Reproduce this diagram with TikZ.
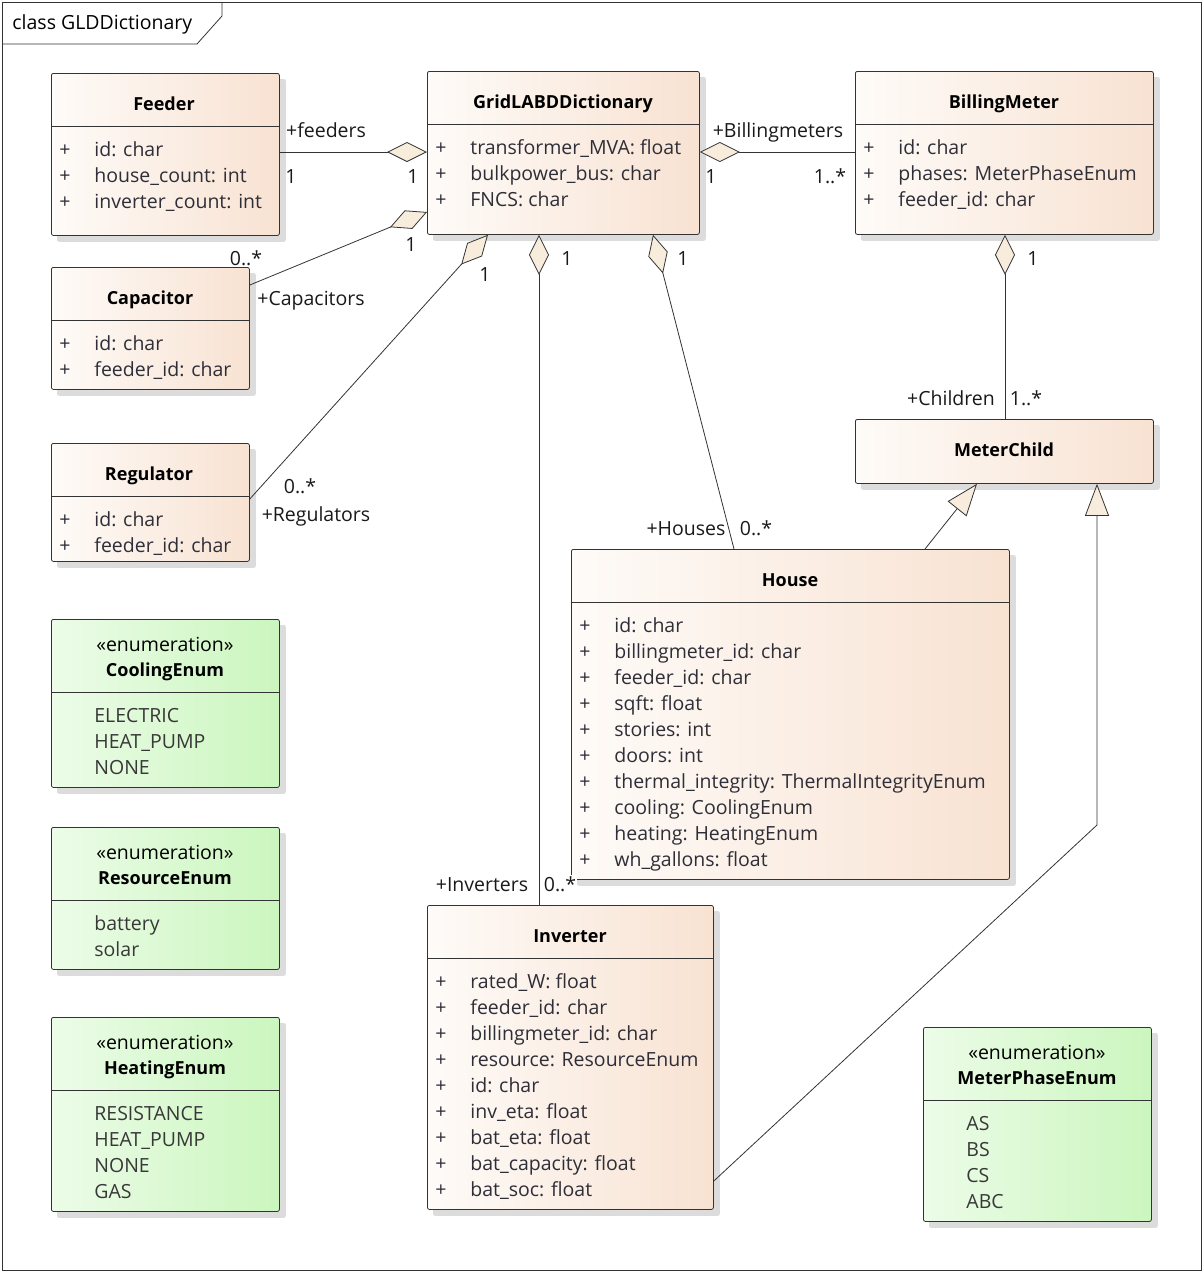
\documentclass[tikz,border=0pt]{standalone}
\usepackage{fontspec}
\setmainfont{Open Sans}
\usetikzlibrary{arrows.meta,calc,backgrounds}
\definecolor{clsL}{HTML}{FEFBF8}
\definecolor{clsR}{HTML}{F8E2D2}
\definecolor{enL}{HTML}{ECFCE8}
\definecolor{enR}{HTML}{CBF6BE}
\definecolor{diamC}{HTML}{F8EDDC}
\definecolor{lineC}{HTML}{333333}
\definecolor{txt}{HTML}{2E2E38}
\definecolor{shd}{HTML}{DCDCDC}
\newcommand\umlattrs[4]{%
  \foreach [count=\i] \t in {#4} {
    \node[att] (#1-p\i) at (#2, #3+26*\i-26+8) {+};
    \node[att] (#1-a\i) at (#2+35, #3+26*\i-26+8) {\t};
  }}
\newcommand\umlitems[4]{%
  \foreach [count=\i] \t in {#4} {
    \node[att, text=black!78] (#1-i\i) at (#2, #3+26*\i-26+8) {\t};
  }}
\begin{document}
\begin{tikzpicture}[x=1pt,y=-1pt,font=\fontsize{19.5}{23}\selectfont,line width=0.8pt,
  box/.style={draw=lineC, rounded corners=2pt, anchor=north west, inner sep=0pt, line width=0.8pt, left color=clsL, right color=clsR},
  enumbox/.style={box, left color=enL, right color=enR},
  ttl/.style={font=\fontsize{18}{22}\selectfont\bfseries, inner sep=0pt, text=black, anchor=base},
  stereo/.style={inner sep=0pt, text=black, anchor=base},
  att/.style={inner sep=0pt, text=txt, anchor=base west},
  lbl/.style={inner sep=0pt, text=black!90, anchor=base},
  aggr/.style={draw=lineC, line width=0.8pt, -{Diamond[length=40pt,width=20pt,fill=diamC,line width=0.8pt]}},
  gen/.style={draw=lineC, line width=0.8pt, -{Triangle[length=32pt,width=24pt,fill=diamC,line width=0.8pt]}},
  divider/.style={draw=lineC, line width=0.8pt}
]
\useasboundingbox (0,0) rectangle (1204,1272);
% frame
\draw[lineC] (2,2) rectangle (1201,1270);
\draw[lineC] (2,44) -- (197,44) -- (222,16) -- (222,2);
\node[inner sep=0pt, anchor=base west, text=black] (frametitle) at (12,29) {class GLDDictionary};

% class boxes
\node[box, minimum width=228, minimum height=162] (feeder) at (51,73) {};
\node[box, minimum width=272, minimum height=163] (grid) at (427,71) {};
\node[box, minimum width=298, minimum height=163] (billing) at (855,71) {};
\node[box, minimum width=198, minimum height=122] (capacitor) at (51,267) {};
\node[box, minimum width=198, minimum height=118] (regulator) at (51,443) {};
\node[enumbox, minimum width=228, minimum height=168] (cooling) at (51,619) {};
\node[enumbox, minimum width=228, minimum height=142] (resource) at (51,827) {};
\node[enumbox, minimum width=228, minimum height=194] (heating) at (51,1017) {};
\node[box, minimum width=298, minimum height=64] (meterchild) at (855,419) {};
\node[box, minimum width=438, minimum height=330] (house) at (571,549) {};
\node[box, minimum width=286, minimum height=304] (inverter) at (427,905) {};
\node[enumbox, minimum width=228, minimum height=194] (meterphase) at (923,1027) {};

% shadows
\begin{scope}[on background layer]
  \foreach \n in {feeder,grid,billing,capacitor,regulator,cooling,resource,heating,meterchild,house,inverter,meterphase}{
    \fill[shd, rounded corners=2pt] ($(\n.north west)+(6,6)$) rectangle ($(\n.south east)+(6,6)$);
  }
\end{scope}

% dividers
\draw[divider] (feeder.west |- 0,126) -- (feeder.east |- 0,126);
\draw[divider] (grid.west |- 0,124) -- (grid.east |- 0,124);
\draw[divider] (billing.west |- 0,124) -- (billing.east |- 0,124);
\draw[divider] (capacitor.west |- 0,320) -- (capacitor.east |- 0,320);
\draw[divider] (regulator.west |- 0,496) -- (regulator.east |- 0,496);
\draw[divider] (cooling.west |- 0,692) -- (cooling.east |- 0,692);
\draw[divider] (resource.west |- 0,900) -- (resource.east |- 0,900);
\draw[divider] (heating.west |- 0,1090) -- (heating.east |- 0,1090);
\draw[divider] (house.west |- 0,602) -- (house.east |- 0,602);
\draw[divider] (inverter.west |- 0,958) -- (inverter.east |- 0,958);
\draw[divider] (meterphase.west |- 0,1100) -- (meterphase.east |- 0,1100);

% titles
\node[ttl] (feeder-t) at (164,110) {Feeder};
\node[ttl] (grid-t) at (563,108) {GridLABDDictionary};
\node[ttl] (billing-t) at (1004,108) {BillingMeter};
\node[ttl] (capacitor-t) at (150,304) {Capacitor};
\node[ttl] (regulator-t) at (149,480) {Regulator};
\node[stereo] (cooling-s) at (165,651) {«enumeration»};
\node[ttl] (cooling-t) at (165,676) {CoolingEnum};
\node[stereo] (resource-s) at (165,859) {«enumeration»};
\node[ttl] (resource-t) at (165,884) {ResourceEnum};
\node[stereo] (heating-s) at (165,1049) {«enumeration»};
\node[ttl] (heating-t) at (165,1074) {HeatingEnum};
\node[ttl] (meterchild-t) at (1004,456) {MeterChild};
\node[ttl] (house-t) at (790,586) {House};
\node[ttl] (inverter-t) at (570,942) {Inverter};
\node[stereo] (meterphase-s) at (1037,1059) {«enumeration»};
\node[ttl] (meterphase-t) at (1037,1084) {MeterPhaseEnum};

% attributes
\umlattrs{feeder}{59}{148}{id: char, house\_count: int, inverter\_count: int}
\umlattrs{grid}{435}{146}{transformer\_MVA: float, bulkpower\_bus: char, FNCS: char}
\umlattrs{billing}{863}{146}{id: char, phases: MeterPhaseEnum, feeder\_id: char}
\umlattrs{capacitor}{59}{342}{id: char, feeder\_id: char}
\umlattrs{regulator}{59}{518}{id: char, feeder\_id: char}
\umlattrs{house}{579}{624}{id: char, billingmeter\_id: char, feeder\_id: char, sqft: float, stories: int, doors: int, thermal\_integrity: ThermalIntegrityEnum, cooling: CoolingEnum, heating: HeatingEnum, wh\_gallons: float}
\umlattrs{inverter}{435}{980}{rated\_W: float, feeder\_id: char, billingmeter\_id: char, resource: ResourceEnum, id: char, inv\_eta: float, bat\_eta: float, bat\_capacity: float, bat\_soc: float}
\umlitems{cooling}{94}{714}{ELECTRIC, HEAT\_PUMP, NONE}
\umlitems{resource}{94}{922}{battery, solar}
\umlitems{heating}{94}{1112}{RESISTANCE, HEAT\_PUMP, NONE, GAS}
\umlitems{meterphase}{966}{1122}{AS, BS, CS, ABC}

% connectors
\draw[aggr] (feeder.east |- 0,152) -- (grid.west |- 0,152);
\draw[aggr] (billing.west |- 0,152) -- (grid.east |- 0,152);
\draw[aggr] (capacitor.east |- 0,285) -- (grid.west |- 0,212);
\draw[aggr] (regulator.east |- 0,499) -- (488,0 |- grid.south);
\draw[aggr] (539,0 |- inverter.north) -- (539,0 |- grid.south);
\draw[aggr] (734,0 |- house.north) -- (653,0 |- grid.south);
\draw[aggr] (1005,0 |- meterchild.north) -- (1005,0 |- billing.south);
\draw[gen] (925,0 |- house.north) -- (977,0 |- meterchild.south);
\coordinate (bend) at (1097,825);
\draw[gen] (inverter.east |- 0,1181) -- (bend) -- (1097,0 |- meterchild.south);

% connector labels
\node[lbl] (l1) at (326,137) {+feeders};
\node[lbl] (l2) at (291,183) {1};
\node[lbl] (l3) at (413,183) {1};
\node[lbl] (l4) at (778,137) {+Billingmeters};
\node[lbl] (l5) at (711,183) {1};
\node[lbl] (l6) at (830,183) {1..*};
\node[lbl] (l7) at (246,265) {0..*};
\node[lbl] (l8) at (311,305) {+Capacitors};
\node[lbl] (l9) at (411,251) {1};
\node[lbl] (l10) at (485,281) {1};
\node[lbl] (l11) at (300,493) {0..*};
\node[lbl] (l12) at (316,521) {+Regulators};
\node[lbl] (l13) at (567,265) {1};
\node[lbl] (l14) at (482,891) {+Inverters};
\node[lbl, fill=white, inner sep=1pt] (l15) at (560,891) {0..*};
\node[lbl] (l16) at (683,265) {1};
\node[lbl] (l17) at (686,535) {+Houses};
\node[lbl] (l18) at (756,535) {0..*};
\node[lbl] (l19) at (1033,265) {1};
\node[lbl] (l20) at (951,405) {+Children};
\node[lbl] (l21) at (1026,405) {1..*};
\end{tikzpicture}
\end{document}
